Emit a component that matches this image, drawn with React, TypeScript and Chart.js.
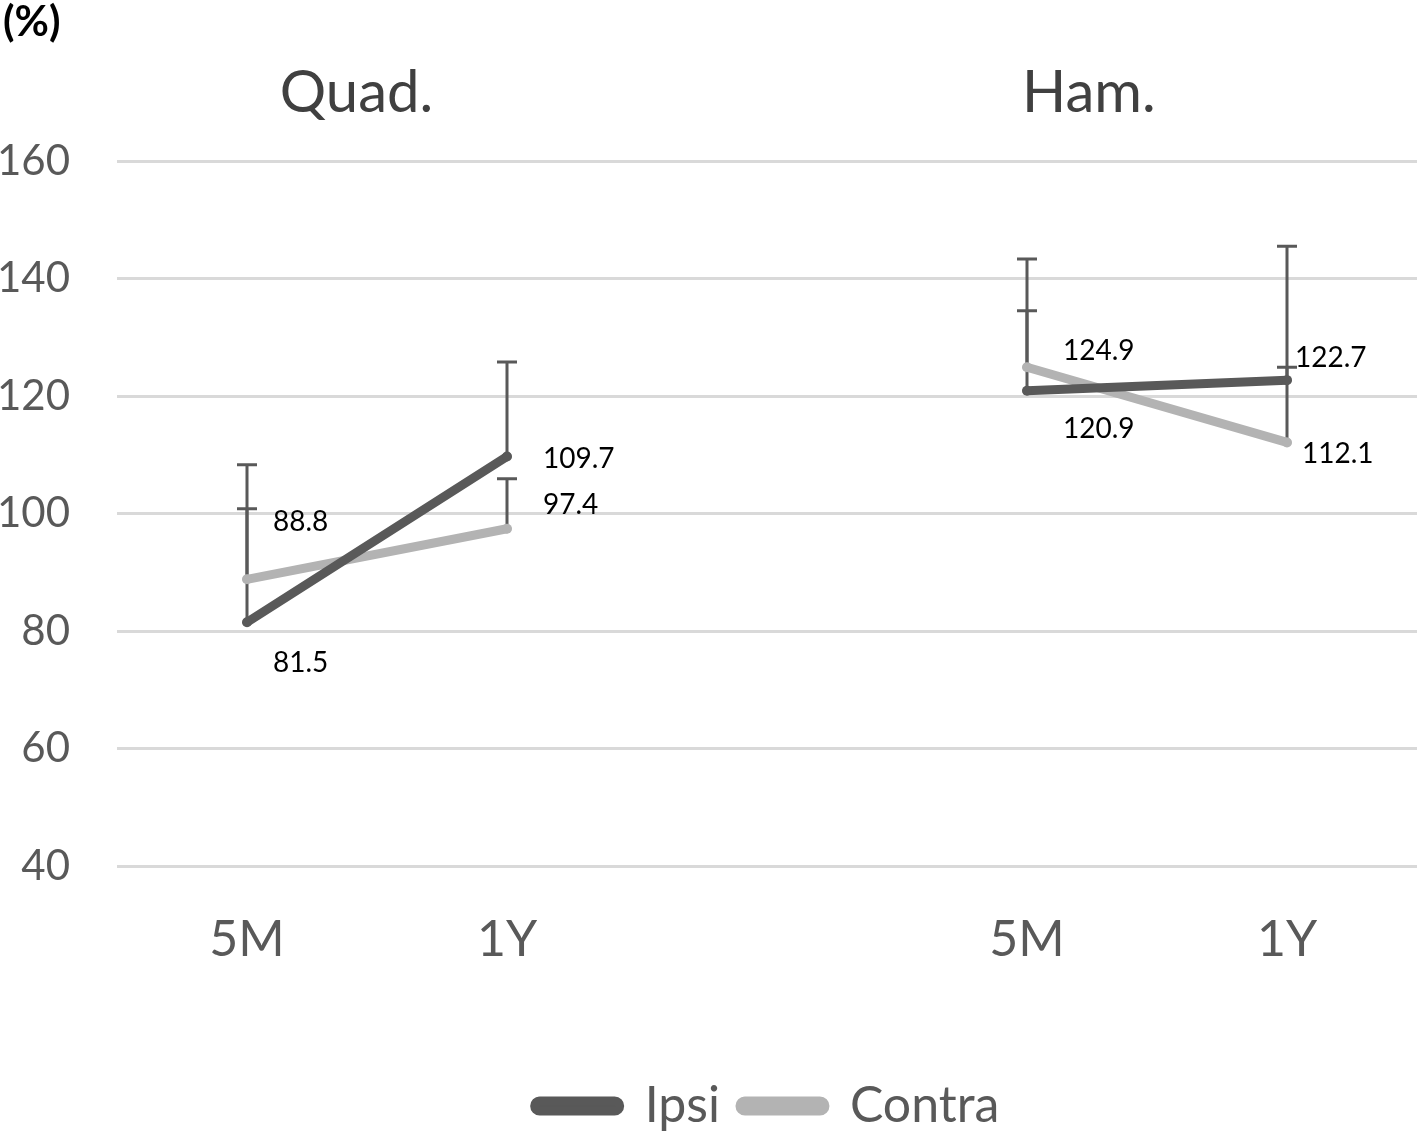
import React, { useEffect, useRef } from "react";
import { Chart, registerables } from "chart.js";

Chart.register(...registerables);

const categories = ["5M", "1Y", "", "5M", "1Y"];
const ipsiValues = [81.5, 109.7, null, 120.9, 122.7];
const contraValues = [88.8, 97.4, null, 124.9, 112.1];
const ipsiSD = [26.8, 16.1, null, 22.4, 22.8];
const contraSD = [12.0, 8.5, null, 9.6, 12.8];
const yTicks = [40, 60, 80, 100, 120, 140, 160];
const groupTitles = ["Quad.", "Ham."];
const seriesNames = ["Ipsi", "Contra"];
const unitLabel = "(%)";

const FONT = "Lato, 'Open Sans', sans-serif";
const DARK = "#595959";
const LIGHT = "#b3b3b3";
const GRID = "#d9d9d9";

// label placement relative to point: [dx to left edge, dy to text centre]
const labelOffsets: Array<Array<[number, number] | null>> = [
  [[26, 40], [36, 1], null, [36, 37], [8, -23]],
  [[26, -58], [36, -25], null, [36, -17], [15, 11]],
];
// group title anchor (decimal category index)
const titleAnchors = [0.421, 3.238];

const overlayPlugin = {
  id: "overlay",
  beforeDatasetsDraw(chart: any) {
    const ctx = chart.ctx;
    const x = chart.scales.x;
    const y = chart.scales.y;
    const sds = [ipsiSD, contraSD];
    ctx.save();
    ctx.strokeStyle = DARK;
    ctx.lineWidth = 3;
    chart.data.datasets.forEach((ds: any, di: number) => {
      ds.data.forEach((v: number | null, i: number) => {
        const sd = sds[di][i];
        if (v == null || sd == null) return;
        const px = x.getPixelForValue(i);
        const py0 = y.getPixelForValue(v);
        const py1 = y.getPixelForValue(v + sd);
        ctx.beginPath();
        ctx.moveTo(px, py0);
        ctx.lineTo(px, py1);
        ctx.moveTo(px - 10, py1);
        ctx.lineTo(px + 10, py1);
        ctx.stroke();
      });
    });
    ctx.restore();
  },
  afterDraw(chart: any) {
    const ctx = chart.ctx;
    const x = chart.scales.x;
    const y = chart.scales.y;
    ctx.save();
    // data labels
    ctx.fillStyle = "#000000";
    ctx.font = `28px ${FONT}`;
    ctx.textAlign = "left";
    ctx.textBaseline = "alphabetic";
    chart.data.datasets.forEach((ds: any, di: number) => {
      ds.data.forEach((v: number | null, i: number) => {
        const off = labelOffsets[di][i];
        if (v == null || !off) return;
        const px = x.getPixelForValue(i);
        const py = y.getPixelForValue(v);
        ctx.fillText(v.toFixed(1), px + off[0], py + off[1] + 10);
      });
    });
    // group titles
    ctx.fillStyle = "#404040";
    ctx.font = `58px ${FONT}`;
    ctx.textAlign = "center";
    groupTitles.forEach((t, k) => {
      ctx.fillText(t, x.getPixelForValue(titleAnchors[k]), 112);
    });
    // unit label
    ctx.fillStyle = "#000000";
    ctx.font = `bold 42px ${FONT}`;
    ctx.textAlign = "left";
    ctx.fillText(unitLabel, 3, 36);
    ctx.restore();
  },
};

export default function App() {
  const ref = useRef<HTMLCanvasElement | null>(null);
  useEffect(() => {
    if (!ref.current) return;
    const chart = new Chart(ref.current, {
      type: "line",
      data: {
        labels: categories,
        datasets: [
          {
            label: seriesNames[0],
            data: ipsiValues,
            borderColor: DARK,
            backgroundColor: DARK,
            borderWidth: 9,
            borderCapStyle: "round",
            pointRadius: 5,
            pointBorderWidth: 0,
            pointBackgroundColor: DARK,
            spanGaps: false,
          },
          {
            label: seriesNames[1],
            data: contraValues,
            borderColor: LIGHT,
            backgroundColor: LIGHT,
            borderWidth: 9,
            borderCapStyle: "round",
            pointRadius: 5,
            pointBorderWidth: 0,
            pointBackgroundColor: LIGHT,
            spanGaps: false,
          },
        ],
      },
      options: {
        responsive: false,
        animation: false,
        layout: { padding: { left: 0, right: 7, top: 161, bottom: 0 } },
        plugins: {
          tooltip: { enabled: false },
          legend: {
            position: "bottom",
            fullSize: false,
            labels: {
              boxWidth: 85,
              boxHeight: 10,
              useBorderRadius: true,
              borderRadius: 5,
              padding: 20,
              color: DARK,
              font: { family: FONT, size: 50 },
            },
          },
        },
        scales: {
          x: {
            type: "category",
            offset: true,
            grid: { display: false, drawTicks: false },
            border: { display: false },
            ticks: { color: DARK, font: { family: FONT, size: 50 }, padding: 44, maxRotation: 0 },
            afterFit: (s: any) => {
              s.height = 195;
            },
          },
          y: {
            position: "left",
            min: yTicks[0],
            max: yTicks[yTicks.length - 1],
            grid: { color: GRID, lineWidth: 3, drawTicks: false },
            border: { display: false },
            ticks: {
              stepSize: yTicks[1] - yTicks[0],
              color: DARK,
              font: { family: FONT, size: 42 },
              padding: 47,
              callback: (v: any) => String(v),
            },
            afterFit: (s: any) => {
              s.width = 117;
            },
          },
        },
      },
      plugins: [overlayPlugin],
    });
    return () => chart.destroy();
  }, []);
  return (
    <div style={{ position: "absolute", left: 0, top: 0, width: 1424, height: 1132, overflow: "hidden", background: "#fff" }}>
      <canvas ref={ref} width={1424} height={1141} style={{ display: "block" }} />
    </div>
  );
}
